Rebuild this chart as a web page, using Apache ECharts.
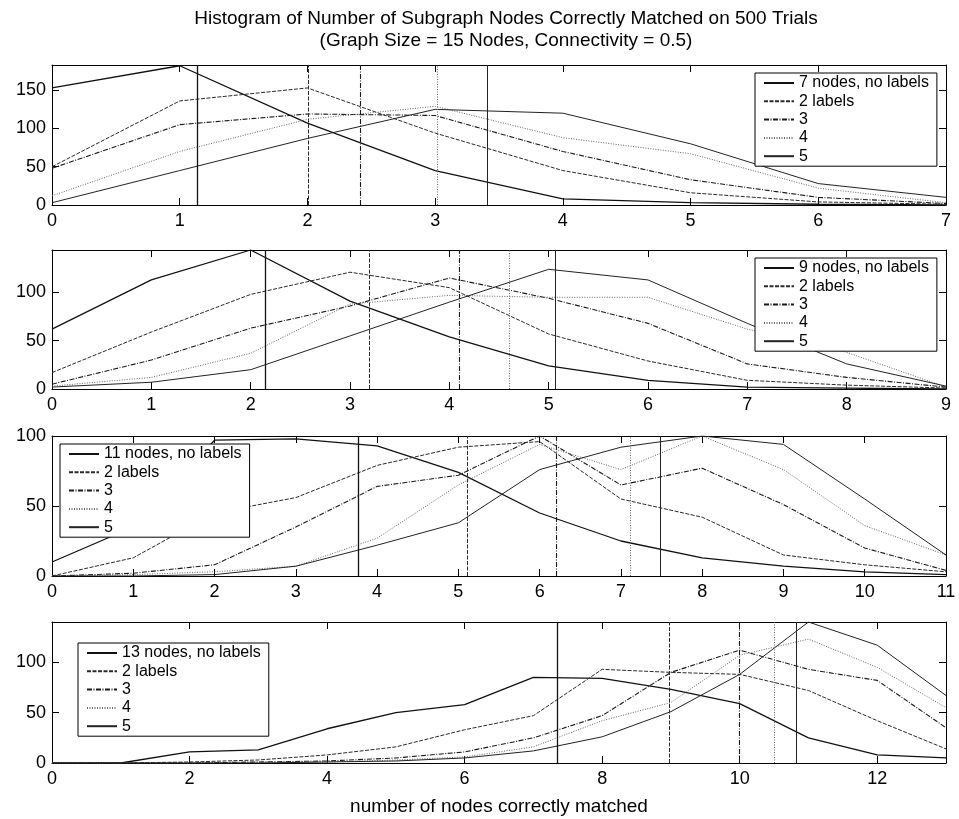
<!DOCTYPE html>
<html>
<head>
<meta charset="utf-8">
<script src="https://cdn.jsdelivr.net/npm/echarts@6/dist/echarts.min.js"></script>
<style>
  html, body { margin: 0; padding: 0; background: #fff; }
  #chart { width: 959px; height: 819px; }
</style>
</head>
<body>
<div id="chart"></div>
<script>
// counts per number of correctly matched nodes (500 trials)
const nodes7 = [0, 1, 2, 3, 4, 5, 6, 7];
const g7NoLabels = [153, 182, 107, 45, 8, 3, 1, 0];
const g7Labels2 = [50, 136, 153, 94, 45, 16, 4, 1];
const g7Labels3 = [48, 105, 119, 117, 70, 33, 10, 2];
const g7Labels4 = [12, 70, 112, 129, 88, 67, 22, 3];
const g7Labels5 = [3, 45, 87, 125, 120, 80, 28, 10];
const g7Means = [1.14, 2.01, 2.41, 3.02, 3.41];

const nodes9 = [0, 1, 2, 3, 4, 5, 6, 7, 8, 9];
const g9NoLabels = [62, 113, 144, 91, 54, 24, 9, 2, 1, 0];
const g9Labels2 = [17, 59, 98, 121, 105, 57, 29, 9, 4, 1];
const g9Labels3 = [5, 30, 63, 86, 115, 94, 68, 26, 12, 2];
const g9Labels4 = [3, 12, 37, 88, 97, 95, 95, 62, 38, 2];
const g9Labels5 = [2, 7, 20, 55, 90, 124, 113, 68, 26, 3];
const g9Means = [2.15, 3.19, 4.10, 4.60, 5.07];

const nodes11 = [0, 1, 2, 3, 4, 5, 6, 7, 8, 9, 10, 11];
const g11NoLabels = [10, 35, 97, 98, 93, 74, 45, 25, 13, 7, 3, 1];
const g11Labels2 = [0, 13, 45, 56, 79, 92, 96, 55, 42, 15, 8, 3];
const g11Labels3 = [0, 2, 8, 35, 64, 72, 100, 65, 77, 51, 20, 4];
const g11Labels4 = [0, 1, 3, 7, 27, 65, 94, 76, 100, 76, 36, 15];
const g11Labels5 = [0, 0, 1, 7, 22, 38, 76, 92, 100, 94, 55, 15];
const g11Means = [3.77, 5.11, 6.20, 7.11, 7.48];

const nodes13 = [0, 1, 2, 3, 4, 5, 6, 7, 8, 9, 10, 11, 12, 13];
const g13NoLabels = [0, 0, 11, 13, 34, 50, 58, 85, 84, 73, 59, 25, 8, 5];
const g13Labels2 = [0, 0, 1, 3, 8, 16, 33, 47, 93, 90, 88, 72, 42, 14];
const g13Labels3 = [0, 0, 0, 1, 2, 5, 11, 25, 47, 90, 112, 93, 82, 35];
const g13Labels4 = [0, 0, 0, 1, 1, 3, 6, 16, 42, 60, 107, 123, 95, 55];
const g13Labels5 = [0, 0, 0, 0, 1, 2, 5, 12, 26, 51, 88, 140, 117, 67];
const g13Means = [7.35, 8.97, 10.0, 10.5, 10.82];

const labelNames = ['2 labels', '3', '4', '5'];

const font = 'Liberation Sans, Arial, Helvetica, sans-serif';

// line look for: no labels, 2, 3, 4, 5
const lineStyles = [
  { color: '#111', width: 1.3, type: 'solid' },
  { color: '#2a2a2a', width: 1, type: [4, 1.5] },
  { color: '#1a1a1a', width: 1.1, type: [5, 1.5, 1, 1.5] },
  { color: '#666', width: 1, type: [1, 1.5] },
  { color: '#222', width: 1, type: 'solid' },
];

const panels = [
  { first: '7 nodes, no labels', x: nodes7, ys: [g7NoLabels, g7Labels2, g7Labels3, g7Labels4, g7Labels5], means: g7Means,
    yMax: 183, xStep: 1, top: 65, height: 140, legend: { left: 755, top: 73 } },
  { first: '9 nodes, no labels', x: nodes9, ys: [g9NoLabels, g9Labels2, g9Labels3, g9Labels4, g9Labels5], means: g9Means,
    yMax: 144, xStep: 1, top: 250, height: 139, legend: { left: 755, top: 258 } },
  { first: '11 nodes, no labels', x: nodes11, ys: [g11NoLabels, g11Labels2, g11Labels3, g11Labels4, g11Labels5], means: g11Means,
    yMax: 100, xStep: 1, top: 436, height: 140, legend: { left: 60, top: 444 } },
  { first: '13 nodes, no labels', x: nodes13, ys: [g13NoLabels, g13Labels2, g13Labels3, g13Labels4, g13Labels5], means: g13Means,
    yMax: 140, xStep: 2, top: 622, height: 141, legend: { left: 78, top: 643 } },
];

const chart = echarts.init(document.getElementById('chart'));

const grid = [], xAxis = [], yAxis = [], series = [], legend = [];

panels.forEach((p, i) => {
  grid.push({ left: 52, width: 894, top: p.top, height: p.height });
  const xMax = p.x[p.x.length - 1];
  ['bottom', 'top'].forEach(pos => {
    const ax = {
      type: 'value', gridIndex: i, position: pos, min: 0, max: xMax, interval: p.xStep,
      axisLine: { show: true, onZero: false, lineStyle: { color: '#000', width: 1 } },
      axisTick: { show: true, inside: true, length: 7, lineStyle: { color: '#000' } },
      axisLabel: {
        show: pos === 'bottom', margin: 7, fontSize: 18, color: '#000', fontFamily: font,
        formatter: v => (v % p.xStep === 0 ? String(v) : ''),
      },
      splitLine: { show: false },
    };
    if (i === 3 && pos === 'bottom') {
      ax.name = 'number of nodes correctly matched';
      ax.nameLocation = 'middle';
      ax.nameGap = 34;
      ax.nameTextStyle = { fontSize: 19, color: '#000', fontFamily: font };
    }
    xAxis.push(ax);
  });
  ['left', 'right'].forEach(pos => {
    yAxis.push({
      type: 'value', gridIndex: i, position: pos, min: 0, max: p.yMax, interval: 50,
      axisLine: { show: true, onZero: false, lineStyle: { color: '#000', width: 1 } },
      axisTick: { show: true, inside: true, length: 7, lineStyle: { color: '#000' } },
      axisLabel: {
        show: pos === 'left', margin: 6, fontSize: 18, color: '#000', fontFamily: font,
        formatter: v => (v % 50 === 0 ? String(v) : ''),
      },
      splitLine: { show: false },
    });
  });

  const names = [p.first].concat(labelNames);
  p.ys.forEach((vals, k) => {
    series.push({
      name: names[k],
      type: 'line',
      xAxisIndex: i * 2,
      yAxisIndex: i * 2,
      data: p.x.map((xv, j) => [xv, vals[j]]),
      symbol: 'none',
      lineStyle: lineStyles[k],
      itemStyle: { color: lineStyles[k].color },
      emphasis: { disabled: true },
      markLine: {
        silent: true,
        symbol: ['none', 'none'],
        label: { show: false },
        lineStyle: lineStyles[k],
        data: [{ xAxis: p.means[k] }],
      },
    });
  });

  legend.push({
    data: names,
    orient: 'vertical',
    left: p.legend.left,
    top: p.legend.top,
    itemWidth: 30,
    itemHeight: 12,
    itemGap: 2.3,
    padding: [2, 8, 2, 8],
    backgroundColor: '#fff',
    borderColor: '#000',
    borderWidth: 1,
    borderRadius: 0,
    selectedMode: false,
    itemStyle: { color: 'rgba(0,0,0,0)', borderWidth: 0, opacity: 0 },
    textStyle: { fontSize: 16, lineHeight: 16, color: '#000', fontFamily: font },
    z: 10,
  });
});

chart.setOption({
  animation: false,
  backgroundColor: '#fff',
  title: {
    text: 'Histogram of Number of Subgraph Nodes Correctly Matched on 500 Trials\n(Graph Size = 15 Nodes, Connectivity = 0.5)',
    left: 501,
    top: 3,
    textAlign: 'center',
    textStyle: { fontSize: 19, fontWeight: 'normal', color: '#000', fontFamily: font, lineHeight: 22 },
  },
  grid: grid,
  xAxis: xAxis,
  yAxis: yAxis,
  legend: legend,
  series: series,
});
</script>
</body>
</html>
